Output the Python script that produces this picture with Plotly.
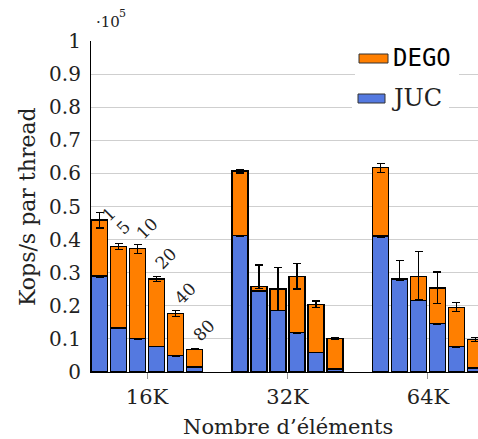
import plotly.graph_objects as go

# Throughput per thread (units of 1e5 Kops/s), stacked JUC + DEGO
sizes = ["16K", "32K", "64K"]
threads = ["1", "5", "10", "20", "40", "80"]

juc = [
    [0.290, 0.133, 0.101, 0.078, 0.049, 0.015],   # 16K
    [0.413, 0.245, 0.187, 0.119, 0.060, 0.009],   # 32K
    [0.411, 0.280, 0.217, 0.147, 0.076, 0.012],   # 64K
]
dego = [
    [0.169, 0.246, 0.271, 0.203, 0.128, 0.054],
    [0.194, 0.013, 0.064, 0.170, 0.145, 0.092],
    [0.206, 0.001, 0.071, 0.107, 0.120, 0.086],
]
juc_err = [
    [0.003, 0.002, 0.002, 0.002, 0.002, 0.001],
    [0.003, 0.002, 0.002, 0.003, 0.002, 0.001],
    [0.003, 0.002, 0.002, 0.003, 0.002, 0.001],
]
dego_err_plus = [
    [0.024, 0.0085, 0.014, 0.008, 0.0085, 0.002],
    [0.006, 0.065, 0.064, 0.038, 0.0095, 0.003],
    [0.0136, 0.055, 0.077, 0.048, 0.013, 0.006],
]
dego_err_minus = [
    [0.024, 0.0085, 0.014, 0.008, 0.0085, 0.002],
    [0.006, 0.005, 0.064, 0.038, 0.0095, 0.003],
    [0.0136, 0.001, 0.070, 0.048, 0.013, 0.006],
]

ORANGE = "#FF7F00"
BLUE = "#5479E0"
SERIF = "DejaVu Serif"
MONO = "DejaVu Sans Mono"
INK = "#222"

# bar geometry inside each size group
step = 0.1352
bar_w = 0.114
n = len(threads)

# pixel offsets (dx, dy) for each rotated thread label
label_nudge = [(-3, -6), (-7, 7), (-6.5, 4.5), (-6.5, 4.5), (-6.5, 4.5), (-6.5, 3)]

xs, yj, yd, ej, ep, em = [], [], [], [], [], []
for g in range(len(sizes)):
    for i in range(n):
        xs.append(g + (i - (n - 1) / 2) * step)
        yj.append(juc[g][i])
        yd.append(dego[g][i])
        ej.append(juc_err[g][i])
        ep.append(dego_err_plus[g][i])
        em.append(dego_err_minus[g][i])

fig = go.Figure()
fig.add_trace(go.Bar(
    x=xs, y=yj, width=bar_w, name="JUC", showlegend=False,
    marker=dict(color=BLUE, line=dict(color="black", width=1.2)),
    error_y=dict(type="data", array=ej, color="black", thickness=1.2, width=4),
))
fig.add_trace(go.Bar(
    x=xs, y=yd, width=bar_w, name="DEGO", showlegend=False,
    marker=dict(color=ORANGE, line=dict(color="black", width=1.2)),
    error_y=dict(type="data", symmetric=False, array=ep, arrayminus=em,
                 color="black", thickness=1.2, width=4),
))

# plot-area geometry in pixels
W, H = 478, 439
L, R, T, B = 91, 478, 41, 372


def px(x):
    return (x - L) / (R - L)


def py(y):
    return (B - y) / (B - T)


annotations = []
# thread-count labels over the first group, starting just above each total
for i, lab in enumerate(threads):
    total = juc[0][i] + dego[0][i]
    dx, dy = label_nudge[i]
    annotations.append(dict(
        x=xs[i], y=total, xref="x", yref="y", text=lab, showarrow=False,
        textangle=-45, font=dict(family=SERIF, size=17, color=INK),
        xanchor="left", yanchor="bottom", borderpad=0,
        xshift=dx, yshift=dy,
    ))

# axis titles and scale factor
annotations += [
    dict(x=px(288), y=py(427), xref="paper", yref="paper", showarrow=False,
         text="Nombre d’éléments", font=dict(family=SERIF, size=21, color=INK),
         xanchor="center", yanchor="middle"),
    dict(x=px(27), y=py(207), xref="paper", yref="paper", showarrow=False,
         text="Kops/s par thread", textangle=-90,
         font=dict(family=SERIF, size=22, color=INK),
         xanchor="center", yanchor="middle"),
    dict(x=px(94), y=py(22), xref="paper", yref="paper", showarrow=False,
         text="·10", font=dict(family=SERIF, size=15, color=INK),
         xanchor="left", yanchor="middle"),
    dict(x=px(117), y=py(14), xref="paper", yref="paper", showarrow=False,
         text="5", font=dict(family=SERIF, size=11, color=INK),
         xanchor="left", yanchor="middle"),
]

# legend drawn by hand: white backing, swatches and labels
shapes = [
    dict(type="rect", xref="paper", yref="paper", layer="above",
         x0=px(355), x1=px(459), y0=py(78), y1=py(38),
         fillcolor="white", line=dict(width=0)),
    dict(type="rect", xref="paper", yref="paper", layer="above",
         x0=px(352), x1=px(449), y0=py(112), y1=py(82),
         fillcolor="white", line=dict(width=0)),
    dict(type="rect", xref="paper", yref="paper", layer="above",
         x0=px(359), x1=px(388), y0=py(63), y1=py(54),
         fillcolor=ORANGE, line=dict(color="#333", width=1)),
    dict(type="rect", xref="paper", yref="paper", layer="above",
         x0=px(358), x1=px(385), y0=py(103), y1=py(94),
         fillcolor=BLUE, line=dict(color="#333", width=1)),
]
annotations += [
    dict(x=px(391), y=py(58), xref="paper", yref="paper", showarrow=False,
         text="DEGO", font=dict(family=MONO, size=24, color="black"),
         xanchor="left", yanchor="middle"),
    dict(x=px(389), y=py(98), xref="paper", yref="paper", showarrow=False,
         text="JUC", font=dict(family=SERIF, size=24, color=INK),
         xanchor="left", yanchor="middle"),
]

yt = [round(0.1 * k, 1) for k in range(11)]
ytext = ["0"] + [f"{v:g}" for v in yt[1:-1]] + ["1"]

fig.update_layout(
    width=W, height=H,
    margin=dict(l=L, r=W - R, t=T, b=H - B, pad=0),
    barmode="stack",
    plot_bgcolor="white", paper_bgcolor="white",
    font=dict(family=SERIF, size=20, color=INK),
    xaxis=dict(
        range=[-0.399, 2.356], tickvals=[0, 1, 2], ticktext=sizes,
        ticks="outside", ticklen=6, tickcolor="#999", tickwidth=1,
        showline=True, linecolor="black", linewidth=1.2,
        showgrid=False, zeroline=False, fixedrange=True,
        tickfont=dict(family=SERIF, size=21, color=INK),
    ),
    yaxis=dict(
        range=[0, 1], tickvals=yt, ticktext=ytext,
        ticks="", showline=True, linecolor="black", linewidth=1.2,
        showgrid=True, gridcolor="#cfcfcf", gridwidth=1,
        zeroline=False, fixedrange=True, ticklabelstandoff=5,
        tickfont=dict(family=SERIF, size=20, color=INK),
    ),
    shapes=shapes,
    annotations=annotations,
)

fig.write_html("out.html")
